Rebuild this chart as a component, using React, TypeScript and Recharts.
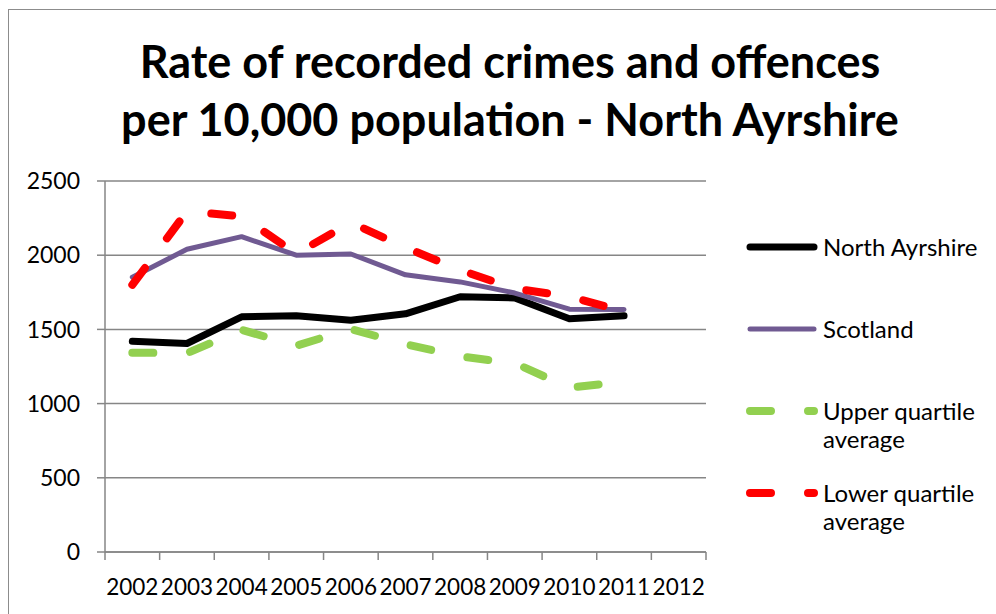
import React from 'react';
import { LineChart, Line, XAxis, YAxis, CartesianGrid, Legend } from 'recharts';

const years = ['2002', '2003', '2004', '2005', '2006', '2007', '2008', '2009', '2010', '2011', '2012'];
const northAyrshire = [1420, 1405, 1585, 1592, 1562, 1605, 1720, 1712, 1572, 1592];
const scotland = [1852, 2040, 2125, 2000, 2008, 1868, 1820, 1745, 1636, 1634];
const upperQuartile = [1343, 1340, 1497, 1390, 1502, 1400, 1318, 1272, 1107, 1148];
const lowerQuartile = [1800, 2295, 2262, 2010, 2220, 2052, 1900, 1775, 1722, 1620];
const yTicks = [0, 500, 1000, 1500, 2000, 2500];
const seriesOrder = ['North Ayrshire', 'Scotland', 'Upper quartile average', 'Lower quartile average'];

// x = category centre on a numeric axis, so tick marks can sit between years
const data = years.map((year, i) => ({
  x: i + 0.5,
  year,
  northAyrshire: northAyrshire[i],
  scotland: scotland[i],
  upperQuartile: upperQuartile[i],
  lowerQuartile: lowerQuartile[i],
}));

// integer positions -> tick marks, half positions -> year labels
const xTicks: number[] = [];
for (let i = 0; i <= years.length * 2; i++) xTicks.push(i / 2);

const FONT = 'Lato, "Open Sans", sans-serif';
const GRID = '#868686';
const DASH = '21 37';

function YearTick(props: any) {
  const { x, y, payload } = props;
  const v = payload.value as number;
  if (Number.isInteger(v)) {
    return <line x1={x} x2={x} y1={y - 8} y2={y} stroke={GRID} strokeWidth={1.5} />;
  }
  return (
    <text x={x} y={y + 35} textAnchor="middle" fontFamily={FONT} fontSize={22.5} fill="#000">
      {years[Math.floor(v)]}
    </text>
  );
}

function LegendContent(props: any) {
  const items = [...(props.payload || [])].sort(
    (a: any, b: any) => seriesOrder.indexOf(a.value) - seriesOrder.indexOf(b.value)
  );
  return (
    <div style={{ fontFamily: FONT, fontSize: 24, color: '#000' }}>
      {items.map((entry: any) => {
        const p = entry.payload || {};
        return (
          <div key={entry.value} style={{ display: 'flex', height: 82, alignItems: 'flex-start' }}>
            <svg width={80} height={28} style={{ flex: 'none' }}>
              <line
                x1={7}
                x2={71}
                y1={14}
                y2={14}
                stroke={entry.color}
                strokeWidth={p.strokeWidth}
                strokeDasharray={p.strokeDasharray}
                strokeLinecap="round"
              />
            </svg>
            <div style={{ width: 168, lineHeight: '28px' }}>{entry.value}</div>
          </div>
        );
      })}
    </div>
  );
}

export default function App() {
  return (
    <div style={{ position: 'absolute', left: 0, top: 0, width: 996, height: 614, overflow: 'hidden', background: '#fff' }}>
      <div
        style={{
          position: 'absolute',
          left: 8,
          top: 9,
          width: 1100,
          height: 700,
          border: '1.5px solid #8c8c8c',
        }}
      />
      <div
        style={{
          position: 'absolute',
          left: 10,
          top: 32,
          width: 1000,
          textAlign: 'center',
          fontFamily: FONT,
          fontWeight: 700,
          fontSize: 45,
          lineHeight: '58px',
          color: '#000',
        }}
      >
        Rate of recorded crimes and offences
        <br />
        per 10,000 population - North Ayrshire
      </div>
      <div style={{ position: 'absolute', left: 0, top: 0 }}>
        <LineChart width={996} height={614} data={data} margin={{ top: 181, right: 290, bottom: 0, left: 0 }}>
          <CartesianGrid vertical={false} stroke={GRID} strokeWidth={1.5} />
          <XAxis
            dataKey="x"
            type="number"
            domain={[0, years.length]}
            ticks={xTicks}
            interval={0}
            height={62}
            tickLine={false}
            tickSize={8}
            tickMargin={0}
            tick={<YearTick />}
            axisLine={{ stroke: GRID, strokeWidth: 1.5 }}
          />
          <YAxis
            domain={[0, 2500]}
            ticks={yTicks}
            width={105}
            tickSize={8}
            tickMargin={17}
            tickLine={{ stroke: GRID, strokeWidth: 1.5 }}
            axisLine={{ stroke: GRID, strokeWidth: 1.5 }}
            tick={{ fill: '#000', fontFamily: FONT, fontSize: 23 }}
          />
          <Legend
            layout="vertical"
            align="center"
            verticalAlign="middle"
            content={<LegendContent />}
            wrapperStyle={{ left: 743, top: 233, width: 250 }}
          />
          <Line
            type="linear"
            dataKey="northAyrshire"
            name="North Ayrshire"
            stroke="#000000"
            strokeWidth={7}
            dot={false}
            activeDot={false}
            strokeLinecap="round"
            strokeLinejoin="round"
            isAnimationActive={false}
          />
          <Line
            type="linear"
            dataKey="scotland"
            name="Scotland"
            stroke="#705A92"
            strokeWidth={5}
            dot={false}
            activeDot={false}
            strokeLinecap="round"
            strokeLinejoin="round"
            isAnimationActive={false}
          />
          <Line
            type="linear"
            dataKey="upperQuartile"
            name="Upper quartile average"
            stroke="#92D050"
            strokeWidth={8}
            strokeDasharray={DASH}
            dot={false}
            activeDot={false}
            strokeLinecap="round"
            strokeLinejoin="round"
            isAnimationActive={false}
          />
          <Line
            type="linear"
            dataKey="lowerQuartile"
            name="Lower quartile average"
            stroke="#FF0000"
            strokeWidth={8}
            strokeDasharray={DASH}
            dot={false}
            activeDot={false}
            strokeLinecap="round"
            strokeLinejoin="round"
            isAnimationActive={false}
          />
        </LineChart>
      </div>
    </div>
  );
}
